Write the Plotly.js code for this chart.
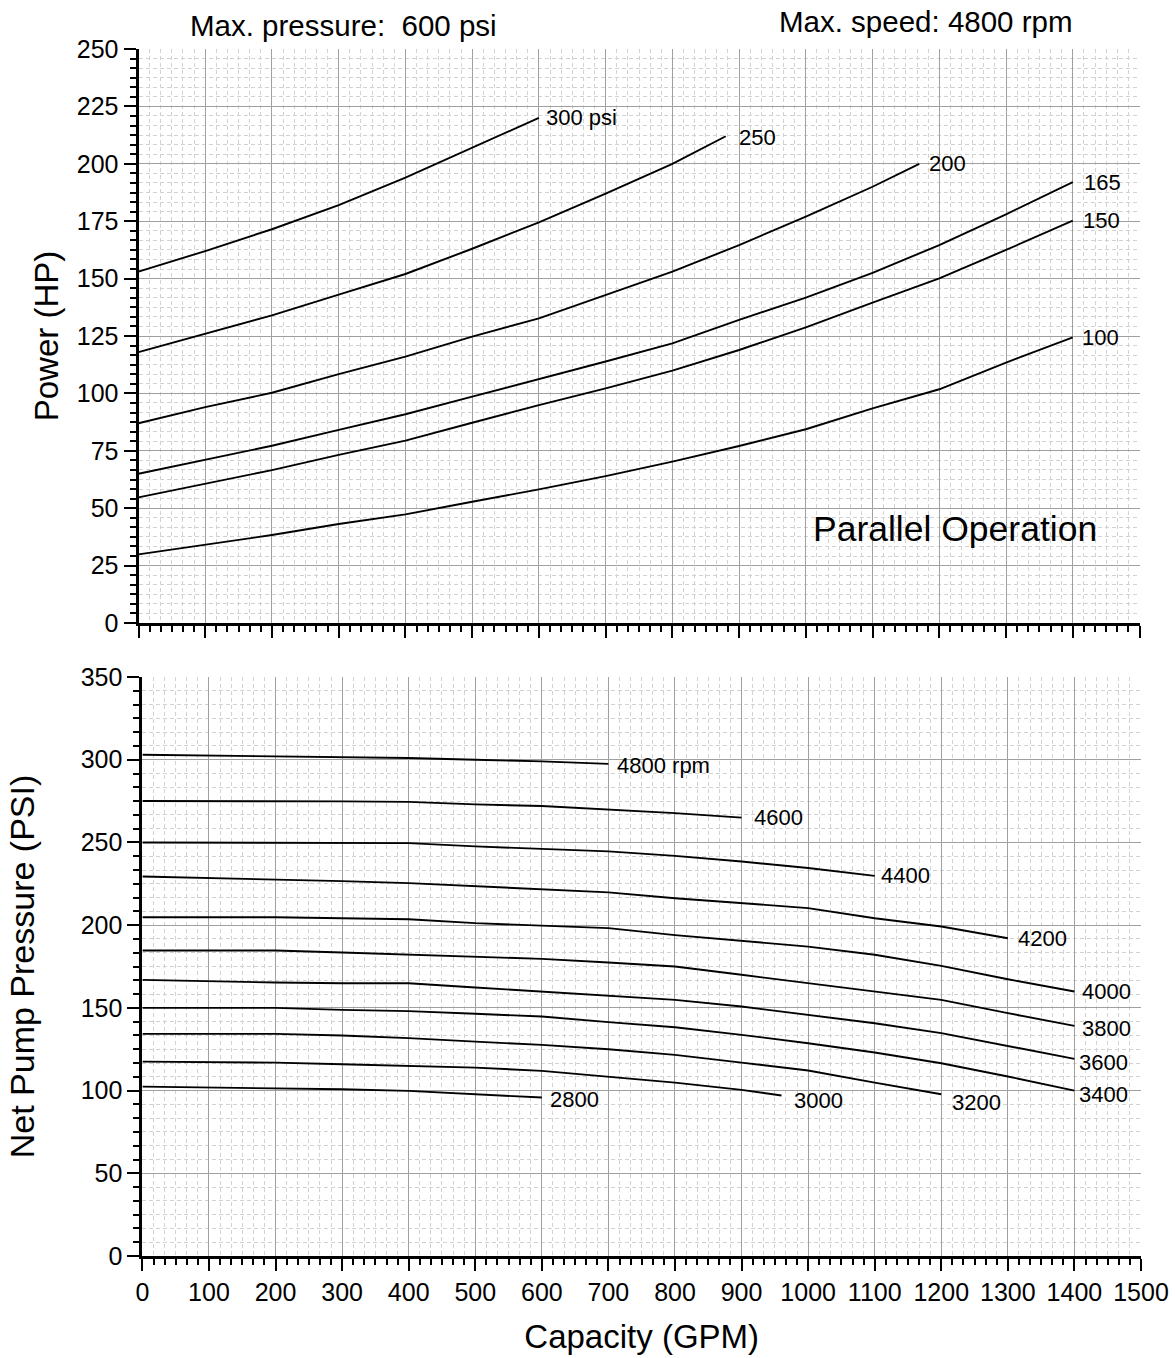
<!DOCTYPE html>
<html>
<head>
<meta charset="utf-8">
<script src="https://cdn.plot.ly/plotly-3.0.1.min.js"></script>
<style>html,body{margin:0;padding:0;background:#fff;}</style>
</head>
<body>
<div id="chart" style="width:1175px;height:1358px;"></div>
<script>
// ---------- Top chart: Power (HP) vs Capacity (GPM) ----------
const psiLabels = ['300 psi', '250', '200', '165', '150', '100'];
const cap300 = [0, 100, 200, 300, 400, 500, 600];
const hp300  = [153, 162, 171.5, 182, 194, 207, 220];
const cap250 = [0, 100, 200, 300, 400, 500, 600, 700, 800, 880];
const hp250  = [118, 126, 134, 143, 152, 163, 174.5, 187, 200, 212];
const cap200 = [0, 100, 200, 300, 400, 500, 600, 700, 800, 900, 1000, 1100, 1170];
const hp200  = [87, 94, 100.3, 108.4, 116, 124.7, 132.7, 143, 153, 164.6, 177, 190, 200];
const cap165 = [0, 100, 200, 300, 400, 500, 600, 700, 800, 900, 1000, 1100, 1200, 1300, 1400];
const hp165  = [65, 71.2, 77.2, 84.1, 90.9, 98.6, 106.1, 113.9, 121.8, 132, 141.7, 152.5, 164.6, 178, 192];
const cap150 = [0, 100, 200, 300, 400, 500, 600, 700, 800, 900, 1000, 1100, 1200, 1300, 1400];
const hp150  = [54.7, 60.6, 66.6, 73.2, 79.4, 87.2, 94.9, 102.2, 109.9, 118.9, 128.8, 139.5, 150.1, 162.5, 175.2];
const cap100 = [0, 100, 200, 300, 400, 500, 600, 700, 800, 900, 1000, 1100, 1200, 1300, 1400];
const hp100  = [29.9, 34, 38.3, 43.1, 47.3, 52.8, 58.2, 64, 70.3, 77.1, 84.4, 93.5, 101.8, 113.4, 124.4];

// ---------- Bottom chart: Net Pump Pressure (PSI) vs Capacity (GPM) ----------
const rpmLabels = ['4800 rpm', '4600', '4400', '4200', '4000', '3800', '3600', '3400', '3200', '3000', '2800'];
const cap4800 = [0, 100, 200, 300, 400, 500, 600, 700];
const psi4800 = [303, 302.5, 302, 301.5, 301, 300, 299, 297.5];
const cap4600 = [0, 100, 200, 300, 400, 500, 600, 700, 800, 900];
const psi4600 = [275, 275, 275, 274.8, 274.5, 273, 272, 270, 267.7, 265];
const cap4400 = [0, 100, 200, 300, 400, 500, 600, 700, 800, 900, 1000, 1100];
const psi4400 = [250, 250, 250, 250, 249.6, 247.6, 246, 244.6, 241.9, 238.5, 234.5, 229.8];
const cap4200 = [0, 100, 200, 300, 400, 500, 600, 700, 800, 900, 1000, 1100, 1200, 1300];
const psi4200 = [229.4, 228.6, 227.8, 226.6, 225.4, 223.4, 221.8, 219.8, 216.3, 213.3, 210.3, 204.2, 199.2, 192.1];
const cap4000 = [0, 100, 200, 300, 400, 500, 600, 700, 800, 900, 1000, 1100, 1200, 1300, 1400];
const psi4000 = [204.8, 204.8, 204.8, 204.2, 203.6, 201.2, 199.6, 198.2, 194, 190.3, 187, 182.1, 175.4, 167.3, 159.9];
const cap3800 = [0, 100, 200, 300, 400, 500, 600, 700, 800, 900, 1000, 1100, 1200, 1300, 1400];
const psi3800 = [184.7, 184.7, 184.7, 183.5, 182.3, 181, 179.6, 177.4, 175, 170, 164.9, 159.9, 154.8, 146.8, 139.1];
const cap3600 = [0, 100, 200, 300, 400, 500, 600, 700, 800, 900, 1000, 1100, 1200, 1300, 1400];
const psi3600 = [166.9, 165.9, 165.3, 164.9, 164.9, 162.3, 159.9, 157.5, 154.8, 150.8, 145.8, 140.7, 134.7, 127, 119.2];
const cap3400 = [0, 100, 200, 300, 400, 500, 600, 700, 800, 900, 1000, 1100, 1200, 1300, 1400];
const psi3400 = [150, 150, 150, 148.8, 148, 146.4, 144.8, 141.4, 138.3, 133.7, 128.6, 123, 116.5, 108.5, 100];
const cap3200 = [0, 100, 200, 300, 400, 500, 600, 700, 800, 900, 1000, 1100, 1200];
const psi3200 = [134.3, 134.3, 134.3, 133.3, 131.7, 129.6, 127.6, 125, 121.6, 116.9, 112.1, 104.8, 97.8];
const cap3000 = [0, 100, 200, 300, 400, 500, 600, 700, 800, 900, 960];
const psi3000 = [117.5, 117.2, 116.9, 115.9, 114.9, 113.9, 111.9, 108.3, 104.8, 100.4, 97];
const cap2800 = [0, 100, 200, 300, 400, 500, 600];
const psi2800 = [102.4, 102, 101.4, 100.8, 99.8, 98, 95.8];

const topSeries = [[cap300, hp300], [cap250, hp250], [cap200, hp200], [cap165, hp165], [cap150, hp150], [cap100, hp100]];
const botSeries = [[cap4800, psi4800], [cap4600, psi4600], [cap4400, psi4400], [cap4200, psi4200], [cap4000, psi4000],
                   [cap3800, psi3800], [cap3600, psi3600], [cap3400, psi3400], [cap3200, psi3200], [cap3000, psi3000], [cap2800, psi2800]];

// label offsets (px) relative to each curve end
const topShift = [[5, 0], [11, -1.5], [8, 0], [9, 0], [8, 0], [7, 0]];
const botShift = [[7, -2], [10, 0], [4, 0], [8, 0], [6, 0], [6, -3], [3, -4], [3, -4], [9, -8], [10, -5], [6, -1.5]];

const FONT = 'Liberation Sans, Arial, Helvetica, sans-serif';
const W = 1175, H = 1358;
const M = {l: 138, r: 34, t: 48, b: 102};
const PW = W - M.l - M.r, PH = H - M.t - M.b;
const dx = px => (px - M.l) / PW;
const dy = py => (H - M.b - py) / PH;

const traces = [];
topSeries.forEach(([x, y], i) => traces.push({x: x, y: y, xaxis: 'x', yaxis: 'y', type: 'scatter', mode: 'lines',
  line: {color: '#000', width: 1.9}, name: psiLabels[i], showlegend: false, hoverinfo: 'x+y'}));
botSeries.forEach(([x, y], i) => traces.push({x: x, y: y, xaxis: 'x2', yaxis: 'y2', type: 'scatter', mode: 'lines',
  line: {color: '#000', width: 1.9}, name: rpmLabels[i], showlegend: false, hoverinfo: 'x+y'}));

function axisStyle(extra) {
  return Object.assign({
    showline: true, linecolor: '#000', linewidth: 3,
    ticks: 'outside', ticklen: 12, tickwidth: 2, tickcolor: '#000',
    showgrid: true, gridcolor: '#a0a0a0', gridwidth: 1,
    zeroline: false, fixedrange: true,
    tickfont: {family: FONT, size: 25, color: '#000'},
  }, extra);
}
function minorStyle(d) {
  return {dtick: d, ticks: 'outside', ticklen: 6, tickwidth: 2, tickcolor: '#000',
          showgrid: true, gridcolor: '#d2d2d2', gridwidth: 1, griddash: '4px,3px'};
}

const annotations = [];
topSeries.forEach(([x, y], i) => annotations.push({
  x: x[x.length - 1], y: y[y.length - 1], xref: 'x', yref: 'y', text: psiLabels[i], showarrow: false,
  xanchor: 'left', yanchor: 'middle', xshift: topShift[i][0], yshift: topShift[i][1],
  font: {family: FONT, size: 22, color: '#000'}}));
botSeries.forEach(([x, y], i) => annotations.push({
  x: x[x.length - 1], y: y[y.length - 1], xref: 'x2', yref: 'y2', text: rpmLabels[i], showarrow: false,
  xanchor: 'left', yanchor: 'middle', xshift: botShift[i][0], yshift: botShift[i][1],
  font: {family: FONT, size: 22, color: '#000'}}));
annotations.push({x: 1224, y: 41, xref: 'x', yref: 'y', text: 'Parallel Operation', showarrow: false,
  xanchor: 'center', yanchor: 'middle', font: {family: FONT, size: 35.5, color: '#000'}});
annotations.push({x: dx(343.7), y: dy(25), xref: 'paper', yref: 'paper', text: 'Max. pressure:\u00a0 600 psi',
  showarrow: false, xanchor: 'center', yanchor: 'middle', font: {family: FONT, size: 29.5, color: '#000'}});
annotations.push({x: dx(925.8), y: dy(21.5), xref: 'paper', yref: 'paper', text: 'Max. speed: 4800 rpm',
  showarrow: false, xanchor: 'center', yanchor: 'middle', font: {family: FONT, size: 29.5, color: '#000'}});

const layout = {
  width: W, height: H, margin: M, paper_bgcolor: '#fff', plot_bgcolor: '#fff',
  font: {family: FONT, color: '#000'}, showlegend: false,
  xaxis: axisStyle({domain: [dx(138.5), dx(1139.5)], range: [0, 1500], dtick: 100, tick0: 0, anchor: 'y',
                    showticklabels: false, minor: minorStyle(100 / 6)}),
  yaxis: axisStyle({domain: [dy(623), dy(49)], range: [0, 250], dtick: 25, tick0: 0, anchor: 'x',
                    minor: minorStyle(25 / 6),
                    title: {text: 'Power (HP)', font: {family: FONT, size: 33, color: '#000'}, standoff: 9}}),
  xaxis2: axisStyle({domain: [dx(142.4), dx(1141)], range: [0, 1500], dtick: 100, tick0: 0, anchor: 'y2',
                     minor: minorStyle(100 / 6),
                     title: {text: 'Capacity (GPM)', font: {family: FONT, size: 33, color: '#000'}, standoff: 20}}),
  yaxis2: axisStyle({domain: [dy(1256), dy(677)], range: [0, 350], dtick: 50, tick0: 0, anchor: 'x2',
                     minor: minorStyle(50 / 6),
                     title: {text: 'Net Pump Pressure (PSI)', font: {family: FONT, size: 34, color: '#000'}, standoff: 36}}),
  annotations: annotations
};

Plotly.newPlot('chart', traces, layout, {displayModeBar: false, staticPlot: true});
</script>
</body>
</html>
